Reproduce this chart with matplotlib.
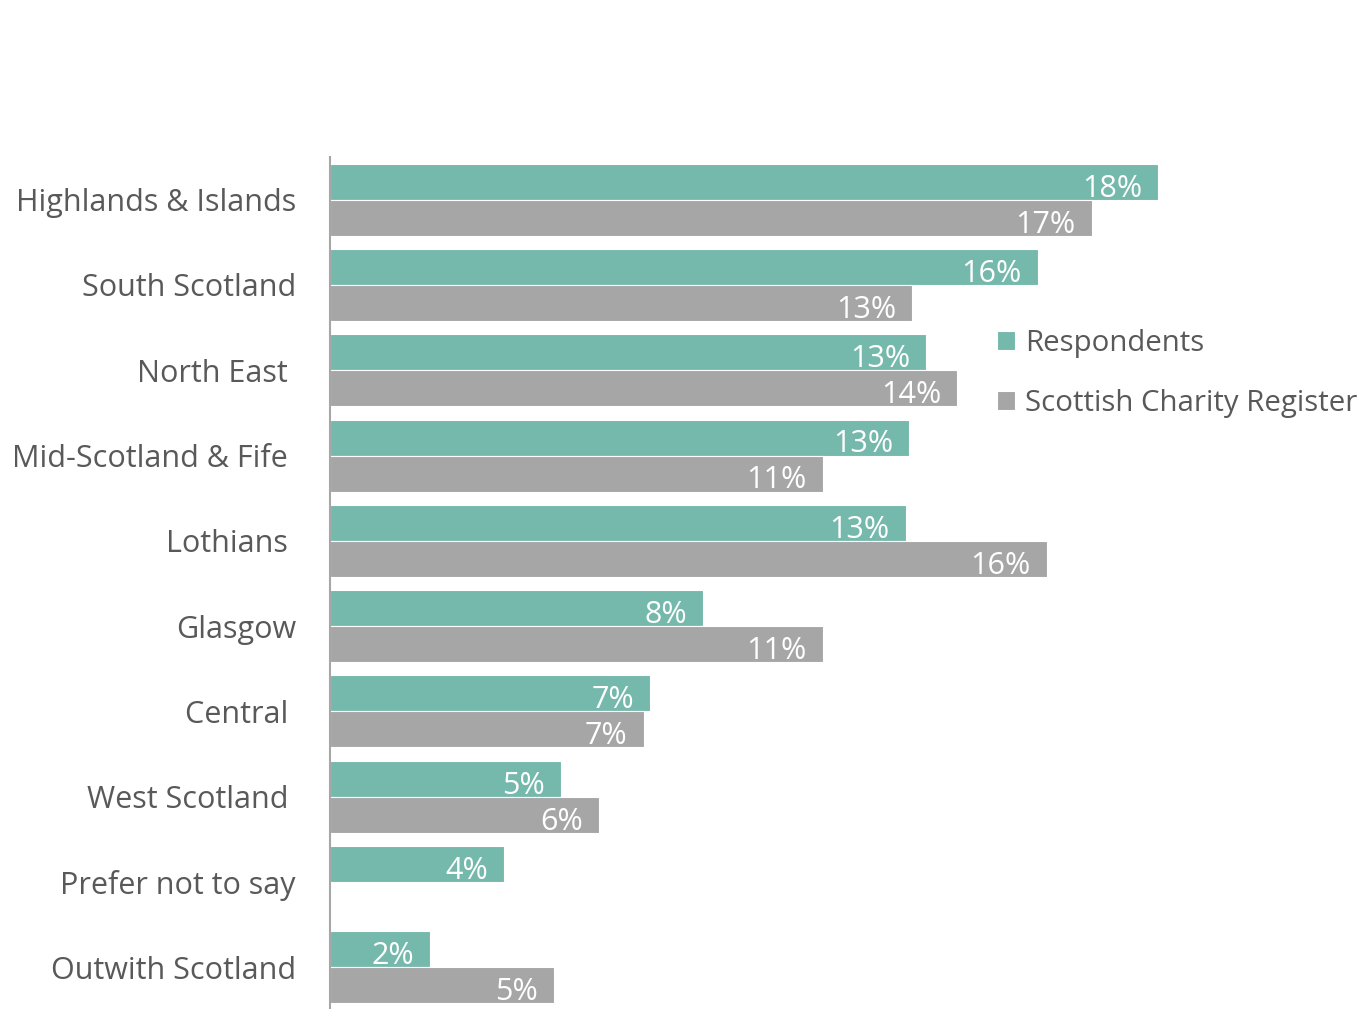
import matplotlib.pyplot as plt
import numpy as np

plt.rcParams['font.family'] = ['Open Sans', 'DejaVu Sans']

# regions, top to bottom (trailing spaces keep the original label offsets)
regions = ['Highlands & Islands', 'South Scotland', 'North East ', 'Mid-Scotland & Fife ',
           'Lothians ', 'Glasgow', 'Central ', 'West Scotland ', 'Prefer not to say',
           'Outwith Scotland']
respondents = [18.48, 15.8, 13.3, 12.92, 12.85, 8.33, 7.14, 5.15, 3.88, 2.23]
register = [17.0, 13.0, 14.0, 11.0, 16.0, 11.0, 7.0, 6.0, None, 5.0]

teal = '#75B9AC'
grey = '#A6A6A6'
text_col = '#595959'

fig = plt.figure(figsize=(13.71, 10.09), dpi=100)
ax = fig.add_axes([330 / 1371, -1 / 1009, 1 - 330 / 1371, 853 / 1009])

y = np.arange(len(regions))
h = 0.422
reg_vals = [v if v is not None else 0 for v in register]

b1 = ax.barh(y - h / 2, respondents, height=h, color=teal, edgecolor='white', linewidth=0.8,
             label='Respondents')
b2 = ax.barh(y + h / 2, reg_vals, height=h, color=grey, edgecolor='white', linewidth=0.8,
             label='Scottish Charity Register')

# value labels inside the bar ends
for bars, vals in ((b1, respondents), (b2, register)):
    for bar, v in zip(bars, vals):
        if v is None:
            continue
        ax.annotate('{:.0f}%'.format(v), (bar.get_width(), bar.get_y() + bar.get_height() / 2),
                    xytext=(-11.5, -5), textcoords='offset points', ha='right', va='center',
                    color='white', fontsize=22)

ax.set_xlim(0, 1041 / 44.8)
ax.set_ylim(len(regions) - 0.5, -0.5)
ax.set_yticks(y)
ax.set_yticklabels(regions, fontsize=22, color=text_col)
ax.tick_params(axis='y', length=0, pad=24.5)
ax.set_xticks([])
for s in ['top', 'right', 'bottom']:
    ax.spines[s].set_visible(False)
ax.spines['left'].set_color('#A6A6A6')
ax.spines['left'].set_linewidth(1.5)

leg = ax.legend(loc='upper left', bbox_to_anchor=(985 / 1371, 1 - 317 / 1009),
                bbox_transform=fig.transFigure, frameon=False, fontsize=21.2,
                handlelength=0.62, handleheight=0.62, handletextpad=0.35,
                labelspacing=1.05, borderaxespad=0)
for t in leg.get_texts():
    t.set_color(text_col)

plt.savefig('out.png', dpi=100)
